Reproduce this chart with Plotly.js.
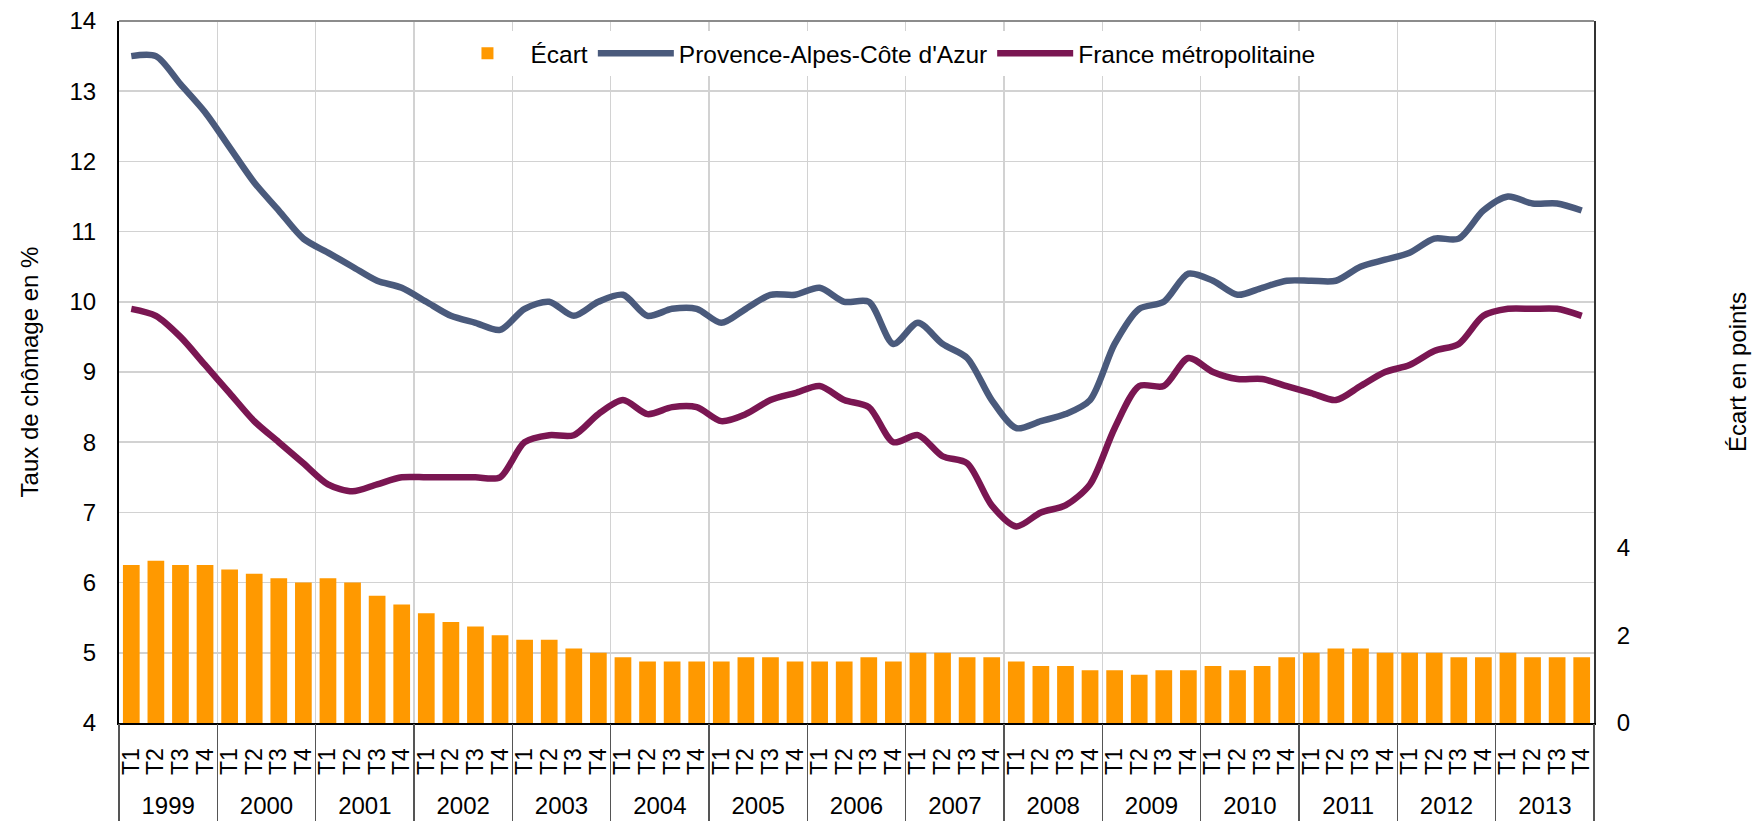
<!DOCTYPE html>
<html>
<head>
<meta charset="utf-8">
<script src="https://cdn.plot.ly/plotly-3.0.1.min.js"></script>
<style>
html,body{margin:0;padding:0;background:#ffffff;}
#chart{width:1758px;height:821px;}
</style>
</head>
<body>
<div id="chart"></div>
<script>
// ---- Data ----
const years = ['1999','2000','2001','2002','2003','2004','2005','2006','2007','2008','2009','2010','2011','2012','2013'];
const quarters = ['T1','T2','T3','T4'];

// Taux de chômage, Provence-Alpes-Côte d'Azur (%), 1999 T1 ... 2013 T4
const paca = [
  13.5, 13.5, 13.1, 12.7,
  12.2, 11.7, 11.3, 10.9,
  10.7, 10.5, 10.3, 10.2,
  10.0,  9.8,  9.7,  9.6,
   9.9, 10.0,  9.8, 10.0,
  10.1,  9.8,  9.9,  9.9,
   9.7,  9.9, 10.1, 10.1,
  10.2, 10.0, 10.0,  9.4,
   9.7,  9.4,  9.2,  8.6,
   8.2,  8.3,  8.4,  8.6,
   9.4,  9.9, 10.0, 10.4,
  10.3, 10.1, 10.2, 10.3,
  10.3, 10.3, 10.5, 10.6,
  10.7, 10.9, 10.9, 11.3,
  11.5, 11.4, 11.4, 11.3
];

// Taux de chômage, France métropolitaine (%)
const france = [
  9.9, 9.8, 9.5, 9.1,
  8.7, 8.3, 8.0, 7.7,
  7.4, 7.3, 7.4, 7.5,
  7.5, 7.5, 7.5, 7.5,
  8.0, 8.1, 8.1, 8.4,
  8.6, 8.4, 8.5, 8.5,
  8.3, 8.4, 8.6, 8.7,
  8.8, 8.6, 8.5, 8.0,
  8.1, 7.8, 7.7, 7.1,
  6.8, 7.0, 7.1, 7.4,
  8.2, 8.8, 8.8, 9.2,
  9.0, 8.9, 8.9, 8.8,
  8.7, 8.6, 8.8, 9.0,
  9.1, 9.3, 9.4, 9.8,
  9.9, 9.9, 9.9, 9.8
];

// Écart en points
const ecart = [
  3.6, 3.7, 3.6, 3.6,
  3.5, 3.4, 3.3, 3.2,
  3.3, 3.2, 2.9, 2.7,
  2.5, 2.3, 2.2, 2.0,
  1.9, 1.9, 1.7, 1.6,
  1.5, 1.4, 1.4, 1.4,
  1.4, 1.5, 1.5, 1.4,
  1.4, 1.4, 1.5, 1.4,
  1.6, 1.6, 1.5, 1.5,
  1.4, 1.3, 1.3, 1.2,
  1.2, 1.1, 1.2, 1.2,
  1.3, 1.2, 1.3, 1.5,
  1.6, 1.7, 1.7, 1.6,
  1.6, 1.6, 1.5, 1.5,
  1.6, 1.5, 1.5, 1.5
];

// ---- Build category positions ----
const idx = [], qLabels = [];
years.forEach((y, yi) => quarters.forEach((q, qi) => { idx.push(yi * quarters.length + qi); qLabels.push(q); }));
const nQ = quarters.length;
const yearCenters = years.map((y, yi) => yi * nQ + (nQ - 1) / 2);
const yearBounds = [];
for (let k = 0; k <= years.length; k++) yearBounds.push(k * nQ - 0.5);
const xRange = [-0.5, idx.length - 0.5];

const FONT = 'Liberation Sans, Arial, Helvetica, sans-serif';

const traces = [
  {
    type: 'bar', name: 'Écart', x: idx, y: ecart, xaxis: 'x2', yaxis: 'y2',
    marker: {color: '#FF9900'}, hoverinfo: 'y'
  },
  {
    type: 'scatter', mode: 'lines', name: "Provence-Alpes-Côte d'Azur", x: idx, y: paca,
    xaxis: 'x', yaxis: 'y',
    line: {color: '#4A5A7C', width: 6.5, shape: 'spline', smoothing: 0.8}
  },
  {
    type: 'scatter', mode: 'lines', name: 'France métropolitaine', x: idx, y: france,
    xaxis: 'x3', yaxis: 'y',
    line: {color: '#7A1652', width: 6.5, shape: 'spline', smoothing: 0.8}
  }
];

const layout = {
  width: 1758, height: 821,
  margin: {l: 119, r: 164, t: 21, b: 98, pad: 0},
  paper_bgcolor: '#ffffff', plot_bgcolor: '#ffffff',
  font: {family: FONT, size: 24, color: '#000000'},
  bargap: 0.32,
  showlegend: true,
  legend: {
    orientation: 'h', x: 0.5176, xanchor: 'center', y: 0.986, yanchor: 'top',
    bgcolor: '#ffffff', font: {family: FONT, size: 24.5, color: '#000'},
    traceorder: 'normal', itemwidth: 76
  },
  xaxis: {
    range: xRange, tickmode: 'array', tickvals: idx, ticktext: qLabels,
    tickangle: -90, tickfont: {family: FONT, size: 23, color: '#000'},
    showgrid: false, zeroline: false, showline: true, linecolor: '#000', linewidth: 2,
    ticks: '', ticklabelstandoff: 14, automargin: false, fixedrange: true
  },
  xaxis2: {
    overlaying: 'x', anchor: 'y2', side: 'bottom', range: xRange,
    tickmode: 'array', tickvals: yearCenters, ticktext: years,
    tickfont: {family: FONT, size: 24, color: '#000'},
    showgrid: false, zeroline: false, showline: false, ticks: '',
    ticklabelstandoff: 66, automargin: false, fixedrange: true
  },
  xaxis3: {
    overlaying: 'x', anchor: 'y', side: 'bottom', range: xRange,
    tickmode: 'array', tickvals: yearBounds, showticklabels: false,
    ticks: 'outside', ticklen: 98, tickwidth: 1.5, tickcolor: '#555555',
    showgrid: true, gridcolor: '#d2d2d2', gridwidth: 1.5,
    zeroline: false, showline: false, automargin: false, fixedrange: true
  },
  yaxis: {
    range: [4, 14], dtick: 1, tick0: 4,
    tickfont: {family: FONT, size: 24, color: '#000'},
    showgrid: true, gridcolor: '#d2d2d2', gridwidth: 1.5,
    zeroline: false, showline: true, linecolor: '#000', linewidth: 2,
    ticks: '', ticklabelstandoff: 16, automargin: false, fixedrange: true,
    title: {text: 'Taux de chômage en %', font: {family: FONT, size: 24, color: '#000'}, standoff: 24}
  },
  yaxis2: {
    overlaying: 'y', side: 'right', anchor: 'x', range: [0, 16],
    tickmode: 'array', tickvals: [0, 2, 4],
    tickfont: {family: FONT, size: 24, color: '#000'},
    showgrid: false, zeroline: false, showline: true, linecolor: '#333', linewidth: 2,
    ticks: '', ticklabelstandoff: 16, automargin: false, fixedrange: true,
    title: {text: 'Écart en points', font: {family: FONT, size: 24, color: '#000'}, standoff: 100}
  },
  shapes: [
    {type: 'line', xref: 'paper', yref: 'paper', x0: 0, x1: 1, y0: 1, y1: 1,
     line: {color: '#8c8c8c', width: 2}}
  ]
};

Plotly.newPlot('chart', traces, layout, {staticPlot: true, displayModeBar: false});
</script>
</body>
</html>
